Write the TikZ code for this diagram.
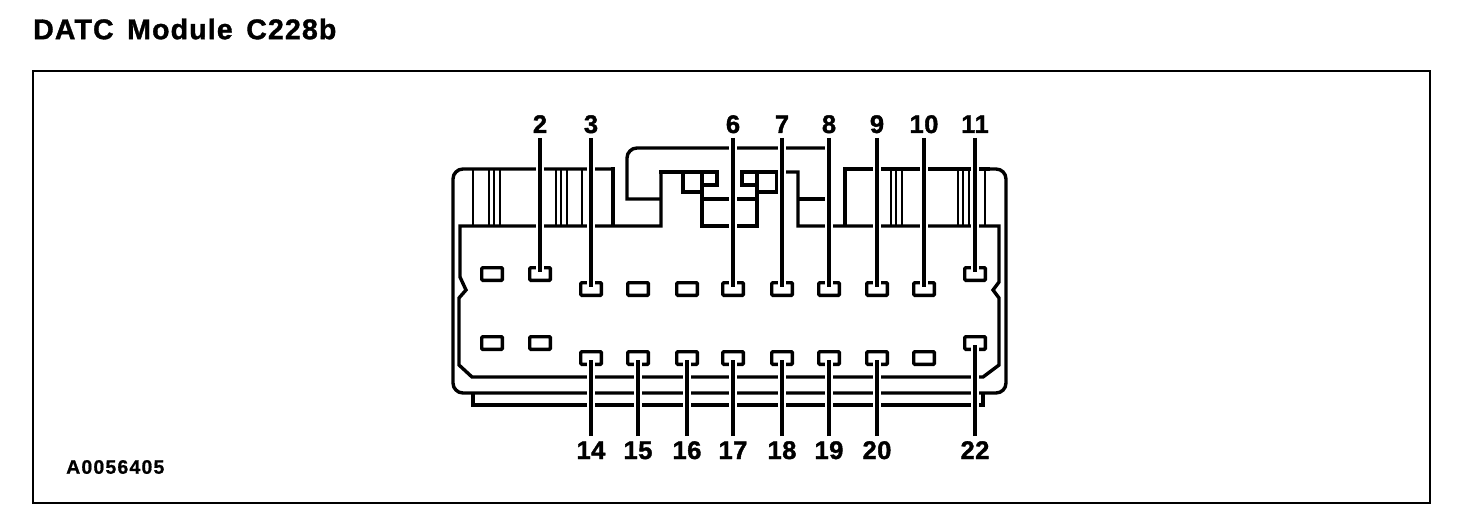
\documentclass[tikz,border=0pt]{standalone}
\usepackage{fontspec}
\setmainfont{Liberation Sans}
\newfontfamily\titlefont[LetterSpace=4,WordSpace=1.5,FakeBold=1.2]{Liberation Sans Bold}
\newfontfamily\partfont[LetterSpace=6,FakeBold=0.8]{Liberation Sans Bold}
\newfontfamily\numfont[LetterSpace=2,FakeBold=1.5]{Liberation Sans Bold}
\tikzset{
  frame/.style={line width=2pt},
  outline/.style={line width=3.4pt,line cap=butt,line join=miter},
  rib/.style={line width=2.8pt},
  pin/.style={draw,line width=3.4pt,minimum width=20.6pt,minimum height=12.6pt,inner sep=0pt,rounded corners=1pt},
  num/.style={font=\numfont\fontsize{25.5}{25.5}\selectfont,inner sep=0pt,outer sep=5pt,text height=18pt,text depth=0pt},
  leader/.style={line width=3.4pt,shorten >=2pt,preaction={draw=white,line width=7.5pt}}
}
\begin{document}
\begin{tikzpicture}[x=1pt,y=-1pt]
\useasboundingbox (0,0) rectangle (1472,524);
\node[anchor=west,inner sep=0pt,font=\titlefont\fontsize{28.5}{28.5}\selectfont] (title) at (33,29) {DATC Module C228b};
\node[anchor=west,inner sep=0pt,font=\partfont\fontsize{19.5}{19.5}\selectfont] (partno) at (66,467) {A0056405};
\draw[frame] (33,71) rectangle (1430,503);
\draw[outline,rounded corners=10pt] (613,169) -- (453,169) -- (453,393) -- (1006,393) -- (1006,169) -- (990,169);
\draw[outline] (990,169) -- (843.3,169);
\draw[outline] (845,169) -- (845,226);
\draw[outline] (473,393) -- (473,405) -- (983,405) -- (983,393);
\draw[outline] (613,167.3) -- (613,226);
\draw[outline] (661,172) -- (661,226) -- (460,226) -- (460,277) -- (466,290) -- (459,298) -- (459,365) -- (472,377) -- (983,377) -- (999,365) -- (999,298) -- (993,290) -- (999,282) -- (999,226) -- (798,226) -- (798,172) -- (786,172);
\draw[outline] (659.3,172) -- (717,172) -- (717,185) -- (703,185);
\draw[outline] (683,172) -- (683,192) -- (703,192);
\draw[outline] (702,172) -- (702,226) -- (757,226) -- (757,172);
\draw[outline] (702,199) -- (757,199);
\draw[outline] (757,192) -- (777,192) -- (777,172) -- (742,172) -- (742,185) -- (757,185);
\draw[outline] (661,199) -- (627,199) [rounded corners=10pt] -- (627,148) -- (822,148) [sharp corners] .. controls (826,148) and (829,150) .. (830,155);
\draw[outline] (798,199) -- (830,199);
\foreach \x in {473,489,494,500,556,561,567,582,891,896,902,958,963,969,985}
  \draw[rib] (\x,169) -- (\x,226);
\foreach \n/\x/\y in {1/492/274,2/540/274,3/591/289,4/638/289,5/687/289,6/733/289,7/782/289,8/829/289,9/877/289,10/924/289,11/975/274,
    12/492/343,13/540/343,14/591/358,15/638/358,16/687/358,17/733/358,18/782/358,19/829/358,20/877/358,21/924/358,22/975/343}
  \node[pin] (pin\n) at (\x,\y) {};
\foreach \n/\x in {2/540,3/591,6/733,7/782,8/829,9/877,10/924,11/975} {
  \node[num] (num\n) at (\x,124) {\n};
  \draw[leader] (num\n.south) -- (pin\n.center);
}
\foreach \n/\x in {14/591,15/638,16/687,17/733,18/782,19/829,20/877,22/975} {
  \node[num] (num\n) at (\x,450) {\n};
  \draw[leader] (num\n.north) -- (pin\n.center);
}
\end{tikzpicture}
\end{document}
